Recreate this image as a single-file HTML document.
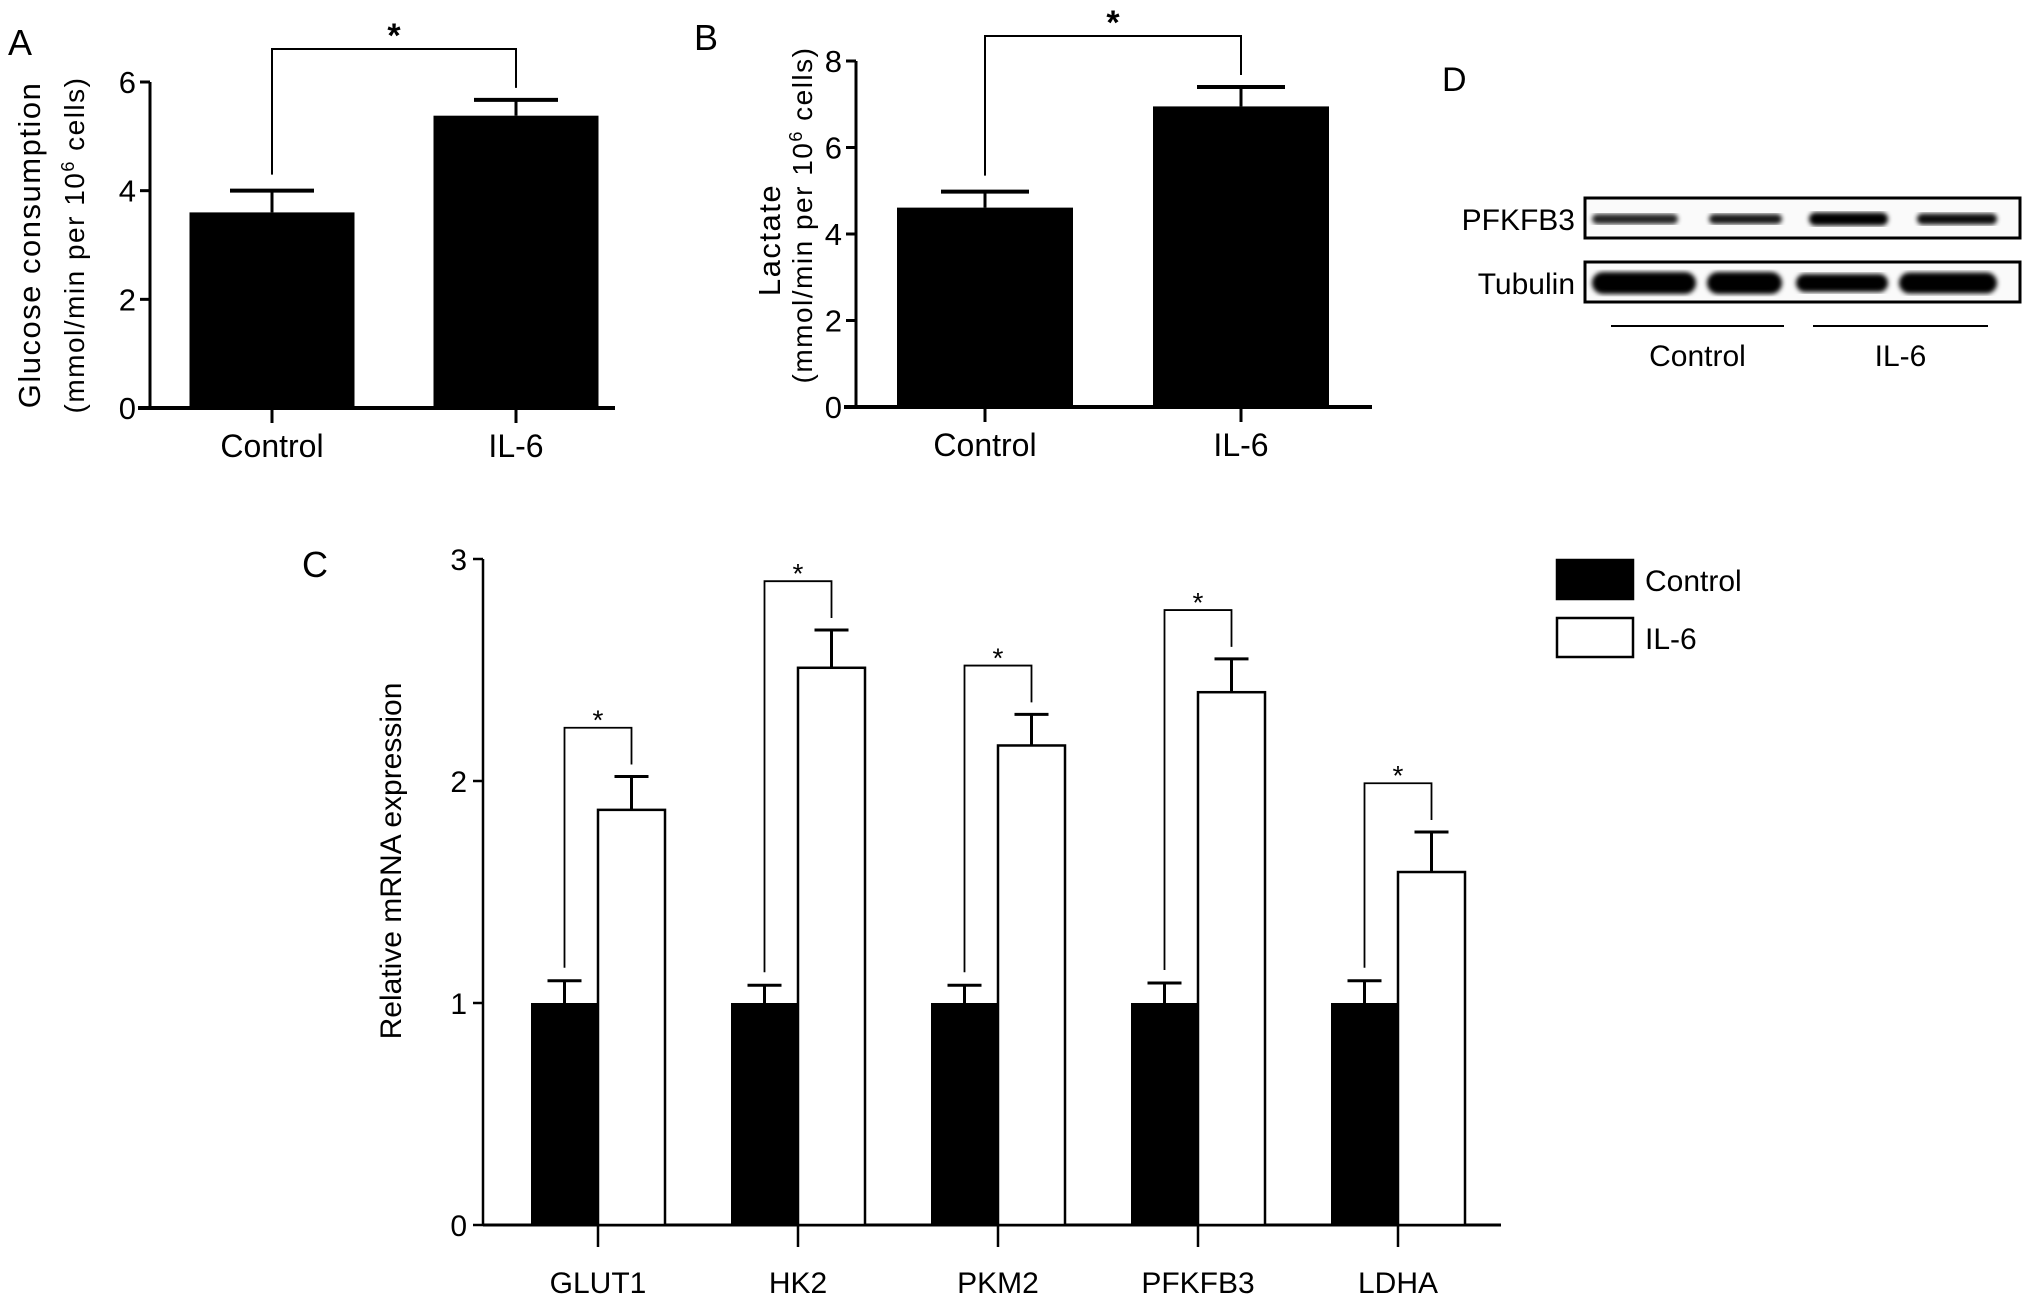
<!DOCTYPE html>
<html><head><meta charset="utf-8"><style>
html,body{margin:0;padding:0;background:#fff;}
svg{display:block;font-family:"Liberation Sans",Arial,sans-serif;}
</style></head><body>
<svg id="fig" width="2031" height="1302" viewBox="0 0 2031 1302" xmlns="http://www.w3.org/2000/svg">
<rect width="2031" height="1302" fill="#fff"/>
<g id="pa"></g>
<g id="pb"></g>
<g id="pc"></g>
<g id="pd"></g>
</svg>
<script>
// Panel A data
const aCategories = ["Control", "IL-6"];
const aValues = [3.6, 5.38];
const aErrors = [0.4, 0.29];
const aTicks = [0, 2, 4, 6];
// Panel B data
const bCategories = ["Control", "IL-6"];
const bValues = [4.61, 6.95];
const bErrors = [0.37, 0.45];
const bTicks = [0, 2, 4, 6, 8];
// Panel C data
const cCategories = ["GLUT1", "HK2", "PKM2", "PFKFB3", "LDHA"];
const cControl = [1, 1, 1, 1, 1];
const cControlErr = [0.1, 0.08, 0.08, 0.09, 0.1];
const cIL6 = [1.87, 2.51, 2.16, 2.40, 1.59];
const cIL6Err = [0.15, 0.17, 0.14, 0.15, 0.18];
const cTicks = [0, 1, 2, 3];
const cLegend = ["Control", "IL-6"];

const NS = "http://www.w3.org/2000/svg";
function el(parent, tag, attrs, text) {
  const e = document.createElementNS(NS, tag);
  for (const k in attrs) e.setAttribute(k, attrs[k]);
  if (text !== undefined) e.textContent = text;
  parent.appendChild(e);
  return e;
}

function simpleBar(g, cfg) {
  const y = v => cfg.y0 - v * (cfg.y0 - cfg.yTop) / cfg.yMax;
  const x = i => cfg.x0 + i * cfg.step;
  let ax = el(g, "line", {x1: cfg.ax, y1: y(cfg.yMax), x2: cfg.ax, y2: cfg.y0 + 2, stroke: "#000", "stroke-width": 3});
  
  
  let xa = el(g, "line", {x1: cfg.ax - 12, y1: cfg.y0, x2: cfg.axEnd, y2: cfg.y0, stroke: "#000", "stroke-width": 4});
  
  
  cfg.ticks.forEach(t => {
    let tl = el(g, "line", {x1: cfg.ax - 10, y1: y(t), x2: cfg.ax, y2: y(t), stroke: "#000", "stroke-width": 3});
    
    
    let tx = el(g, "text", {x: cfg.ax - 14, y: y(t) + 11, "text-anchor": "end", "font-size": 31}, String(t));
    
    
  });
  cfg.cats.forEach((c, i) => {
    const cx = x(i);
    let b = el(g, "rect", {x: cx - cfg.bw / 2, y: y(cfg.vals[i]), width: cfg.bw, height: cfg.y0 - y(cfg.vals[i]), fill: "#000"});
    
    
    const top = y(cfg.vals[i] + cfg.errs[i]);
    let e1 = el(g, "line", {x1: cx, y1: y(cfg.vals[i]), x2: cx, y2: top, stroke: "#000", "stroke-width": 3});
    
    
    let e2 = el(g, "line", {x1: cx - cfg.cap, y1: top, x2: cx + cfg.cap, y2: top, stroke: "#000", "stroke-width": 4});
    
    
    let tk = el(g, "line", {x1: cx, y1: cfg.y0, x2: cx, y2: cfg.y0 + 15, stroke: "#000", "stroke-width": 3});
    
    
    let lb = el(g, "text", {x: cx, y: cfg.y0 + 49, "text-anchor": "middle", "font-size": 32}, c);
    
    
  });
  const bl = y(cfg.vals[0] + cfg.errs[0]) - 16, br = y(cfg.vals[1] + cfg.errs[1]) - 12;
  let br1 = el(g, "polyline", {points: `${x(0)},${bl} ${x(0)},${cfg.bracketY} ${x(1)},${cfg.bracketY} ${x(1)},${br}`, fill: "none", stroke: "#000", "stroke-width": 2});
  
  
  let st = el(g, "text", {x: (x(0) + x(1)) / 2, y: cfg.bracketY - 2, "text-anchor": "middle", "font-size": 34, "font-weight": "bold"}, "*");
  
  
}

// Panel A
const pa = document.getElementById("pa");
simpleBar(pa, {ax: 150, axEnd: 615, y0: 408, yTop: 82, yMax: 6, ticks: aTicks, cats: aCategories, vals: aValues, errs: aErrors,
  x0: 272, step: 244, bw: 165, cap: 42, bracketY: 49});
let la = el(pa, "text", {x: 8, y: 55, "font-size": 36}, "A");


let ya1 = el(pa, "text", {transform: "translate(40,245) rotate(-90)", "text-anchor": "middle", "font-size": 31, "letter-spacing": "1.5"}, "Glucose consumption");


let ya2 = el(pa, "text", {transform: "translate(84,245) rotate(-90)", "text-anchor": "middle", "font-size": 28, "letter-spacing": "1.5"});


ya2.innerHTML = '(mmol/min per 10<tspan dy="-10" font-size="18">6</tspan><tspan dy="10"> cells)</tspan>';

// Panel B
const pb = document.getElementById("pb");
simpleBar(pb, {ax: 856, axEnd: 1372, y0: 407, yTop: 61, yMax: 8, ticks: bTicks, cats: bCategories, vals: bValues, errs: bErrors,
  x0: 985, step: 256, bw: 176, cap: 44, bracketY: 36});
let lbB = el(pb, "text", {x: 694, y: 50, "font-size": 36}, "B");


let yb1 = el(pb, "text", {transform: "translate(780,240) rotate(-90)", "text-anchor": "middle", "font-size": 31, "letter-spacing": "1.5"}, "Lactate");


let yb2 = el(pb, "text", {transform: "translate(812,215) rotate(-90)", "text-anchor": "middle", "font-size": 28, "letter-spacing": "1.5"});


yb2.innerHTML = '(mmol/min per 10<tspan dy="-10" font-size="18">6</tspan><tspan dy="10"> cells)</tspan>';

// Panel C
const pc = document.getElementById("pc");
const cX0 = 483, cY0 = 1225, cY3 = 559, cStep = 200, cFirst = 598, cBw = 67;
const cy = v => cY0 - v * (cY0 - cY3) / 3;
const cx = i => cFirst + i * cStep;
let cya = el(pc, "line", {x1: cX0, y1: cy(3), x2: cX0, y2: cY0 + 1, stroke: "#000", "stroke-width": 2.5});


let cxa = el(pc, "line", {x1: cX0, y1: cY0, x2: 1501, y2: cY0, stroke: "#000", "stroke-width": 3});


cTicks.forEach(t => {
  let tl = el(pc, "line", {x1: cX0 - 10, y1: cy(t), x2: cX0, y2: cy(t), stroke: "#000", "stroke-width": 2.5});
  
  
  let tx = el(pc, "text", {x: cX0 - 16, y: cy(t) + 11, "text-anchor": "end", "font-size": 30}, String(t));
  
  
});
cCategories.forEach((c, i) => {
  const x = cx(i);
  let b1 = el(pc, "rect", {x: x - cBw, y: cy(cControl[i]), width: cBw, height: cY0 - cy(cControl[i]), fill: "#000"});
  
  
  let b2 = el(pc, "rect", {x: x, y: cy(cIL6[i]), width: cBw, height: cY0 - cy(cIL6[i]), fill: "#fff", stroke: "#000", "stroke-width": 2.5});
  
  
  const xc = x - cBw / 2, xi = x + cBw / 2;
  const tc = cy(cControl[i] + cControlErr[i]), ti = cy(cIL6[i] + cIL6Err[i]);
  let e1 = el(pc, "path", {d: `M${xc},${cy(cControl[i])}V${tc}M${xc - 17},${tc}H${xc + 17}`, stroke: "#000", "stroke-width": 3, fill: "none"});
  
  
  let e2 = el(pc, "path", {d: `M${xi},${cy(cIL6[i])}V${ti}M${xi - 17},${ti}H${xi + 17}`, stroke: "#000", "stroke-width": 3, fill: "none"});
  
  
  const bY = cy(cIL6[i] + cIL6Err[i] + 0.22);
  let br = el(pc, "polyline", {points: `${xc},${tc - 13} ${xc},${bY} ${xi},${bY} ${xi},${ti - 12}`, fill: "none", stroke: "#000", "stroke-width": 1.8});
  
  
  let st = el(pc, "text", {x: x, y: bY + 2, "text-anchor": "middle", "font-size": 28}, "*");
  
  
  let tk = el(pc, "line", {x1: x, y1: cY0, x2: x, y2: cY0 + 22, stroke: "#000", "stroke-width": 2.5});
  
  
  let lb = el(pc, "text", {x: x, y: cY0 + 68, "text-anchor": "middle", "font-size": 30}, c);
  
  
});
let lc = el(pc, "text", {x: 302, y: 577, "font-size": 36}, "C");


let yc = el(pc, "text", {transform: "translate(401,861) rotate(-90)", "text-anchor": "middle", "font-size": 30}, "Relative mRNA expression");


cLegend.forEach((n, i) => {
  const yy = 560 + i * 58;
  let sw = el(pc, "rect", {x: 1557, y: yy, width: 76, height: 39, fill: i === 0 ? "#000" : "#fff", stroke: "#000", "stroke-width": 2.5});
  
  
  let t = el(pc, "text", {x: 1645, y: yy + 31, "font-size": 30}, n);
  
  
});

// Panel D (western blot image)
const pd = document.getElementById("pd");
let ld = el(pd, "text", {x: 1442, y: 91, "font-size": 34}, "D");


const defs = el(pd, "defs", {});
const f = el(defs, "filter", {id: "blur"});
el(f, "feGaussianBlur", {stdDeviation: "2.5"});
[["PFKFB3", 198, [[1588,1682,0.85,10],[1705,1786,0.9,10],[1805,1892,1,13],[1913,2001,0.95,11]], 219],
 ["Tubulin", 262, [[1588,1700,1,22],[1703,1786,1,22],[1792,1892,1,18],[1895,2001,1,21]], 283]].forEach(r => {
  let box = el(pd, "rect", {x: 1585, y: r[1], width: 435, height: 40, fill: "#fafafa", stroke: "#000", "stroke-width": 3});
  
  
  r[2].forEach(b => {
    let band = el(pd, "rect", {x: b[0] + 4, y: r[3] - b[3] / 2, width: b[1] - b[0] - 8, height: b[3], rx: b[3] / 2, fill: "#000", opacity: b[2], filter: "url(#blur)"});
    
    
  });
  let t = el(pd, "text", {x: 1575, y: r[1] + 32, "text-anchor": "end", "font-size": 30}, r[0]);
  
  
});
[[1611, 1784, "Control"], [1813, 1988, "IL-6"]].forEach(g => {
  let ln = el(pd, "line", {x1: g[0], y1: 326, x2: g[1], y2: 326, stroke: "#000", "stroke-width": 2});
  
  
  let t = el(pd, "text", {x: (g[0] + g[1]) / 2, y: 366, "text-anchor": "middle", "font-size": 30}, g[2]);
  
  
});
</script>
</body></html>
